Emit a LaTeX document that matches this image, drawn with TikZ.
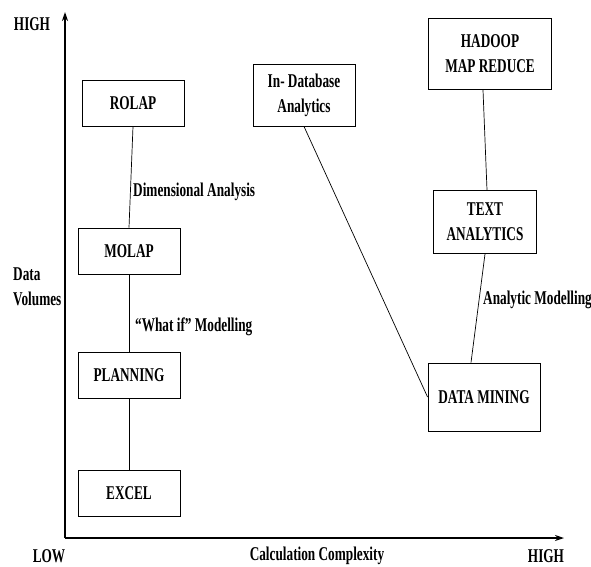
\documentclass[tikz,border=0pt]{standalone}
\usepackage{fontspec}
\setmainfont{Liberation Serif}[FakeStretch=0.68]
\usetikzlibrary{arrows.meta}

\tikzset{
  texte/.style={font=\bfseries\fontsize{19.5}{25}\selectfont, inner sep=0pt},
  boite/.style={texte, draw, line width=0.9pt, align=center},
  lien/.style={line width=0.7pt},
  axe/.style={line width=1.4pt, -{Stealth[length=9pt,width=6pt]}}
}

\begin{document}
\begin{tikzpicture}[x=1pt, y=-1pt]

 \useasboundingbox (0,0) rectangle (591,566);

 %%%%%%%%%% Axes %%%%%%%%%%
 \coordinate (O) at (65,538);
 \coordinate (haut) at (65,12);
 \coordinate (droite) at (564,538);
 \draw [axe] (O) -- (haut);
 \draw [axe] (O) -- (droite);

 \node [texte] (hautY) at (32,24) {HIGH};
 \node [texte, align=left, anchor=west] (volumes) at (13,287) {Data\\Volumes};
 \node [texte] (bas) at (49,556) {LOW};
 \node [texte] (calcul) at (317,556) {Calculation Complexity};
 \node [texte] (hautX) at (546,556) {HIGH};

 %%%%%%%%%% Boites %%%%%%%%%%
 \node [boite, minimum width=102, minimum height=46] (rolap) at (133,103) {ROLAP};
 \node [boite, minimum width=102, minimum height=46] (molap) at (129,251) {MOLAP};
 \node [boite, minimum width=102, minimum height=46] (planning) at (129,375) {PLANNING};
 \node [boite, minimum width=102, minimum height=46] (excel) at (129,493) {EXCEL};
 \node [boite, minimum width=102, minimum height=62] (indb) at (304,95) {In- Database\\Analytics};
 \node [boite, minimum width=123, minimum height=71] (hadoop) at (490,54) {HADOOP\\MAP REDUCE};
 \node [boite, minimum width=103, minimum height=63] (text) at (485,222) {TEXT\\ANALYTICS};
 \node [boite, minimum width=112, minimum height=68] (dm) at (484,397) {DATA MINING};

 %%%%%%%%%% Liens %%%%%%%%%%
 \draw [lien] (rolap.south) -- (molap.north);
 \draw [lien] (molap.south) -- (planning.north);
 \draw [lien] (planning.south) -- (excel.north);
 \draw [lien] (indb.south) -- (dm.west);
 \draw [lien] ([xshift=-7pt]hadoop.south) -- ([xshift=2pt]text.north);
 \draw [lien] (text.south) -- ([xshift=-13pt]dm.north);

 % Etiquettes
 \node [texte, anchor=west] (dimension) at (133,192) {Dimensional Analysis};
 \node [texte, anchor=west] (whatif) at (135,327) {``What if'' Modelling};
 \node [texte, anchor=west] (analytic) at (483,300) {Analytic Modelling};

\end{tikzpicture}
\end{document}
